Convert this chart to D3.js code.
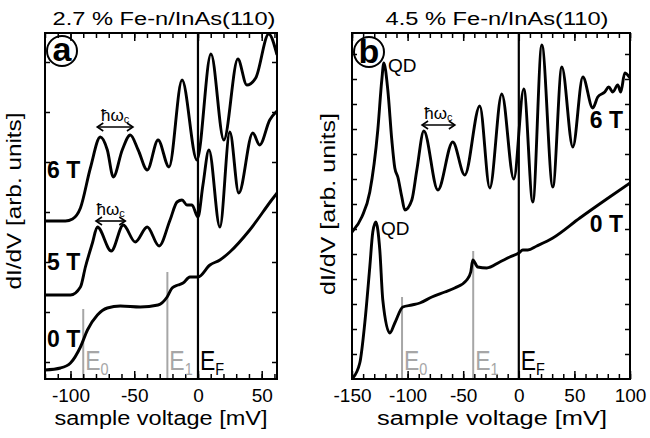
<!DOCTYPE html>
<html>
<head>
<meta charset="utf-8">
<script src="https://cdnjs.cloudflare.com/ajax/libs/d3/7.8.5/d3.min.js"></script>
<style>
    body { margin: 0; background: #fff; }
    svg text { font-family: "Liberation Sans", Arial, sans-serif; fill: #000; }
</style>
</head>
<body>
<div id="chart"></div>
<script>
// ---- panel a : 2.7 % Fe-n/InAs(110) ----
let voltA6 = [-120, -104, -98.4, -92.2, -84.4, -76.6, -71.1, -66.4, -59.4, -53.1, -46.9, -39.8, -31.3, -22.7, -12.5, -0.8, 10.2, 20.3, 31.3, 38.3, 45.3, 55.5, 62];
let didvA6 = [158, 158, 160, 171, 211, 242, 229, 202, 229, 244, 229, 209, 239, 212, 299, 219, 325, 239, 320, 294, 301, 345, 324];

let voltA5 = [-120, -100, -92.2, -88.3, -82.8, -78.9, -68, -58.6, -49.2, -39.8, -30.5, -21.9, -16.4, -12.5, -8.6, -4.7, 0, 3.9, 8.6, 17.2, 25, 32, 43, 48.4, 56.3, 62];
let didvA5 = [84, 84, 92, 112, 136, 152, 128, 154, 137, 152, 133, 159, 177, 179, 174, 174, 162, 194, 229, 152, 247, 186, 246, 234, 259, 268];

let voltA0 = [-120, -107.8, -100, -92.2, -86.7, -78.9, -71.1, -60.9, -45.3, -31.3, -24.2, -20.3, -15.6, -11.7, -6.3, 0, 9.4, 17.2, 25, 40.6, 57.8, 62];
let didvA0 = [9, 11, 16, 32, 49, 64, 71, 73, 72, 74, 82, 91, 94, 96, 102, 102, 114, 119, 127, 149, 179, 186];

// ---- panel b : 4.5 % Fe-n/InAs(110) ----
let voltB6 = [-150, -141.2, -134, -126.8, -123.2, -121.4, -117.8, -114.2, -111.5, -108.8, -105.2, -102.5, -96.2, -91.7, -85.4, -72.8, -59.4, -48.6, -35.1, -26.1, -15.3, -4.5, 4.5, 12.6, 20.7, 30.6, 38.7, 48.6, 57.6, 66.5, 71, 77.3, 80.9, 84.5, 89, 91.7, 95.3, 100];
let didvB6 = [147, 162, 187, 249, 299, 316, 289, 239, 211, 202, 182, 169, 179, 209, 248, 189, 237, 204, 273, 191, 285, 200, 290, 177, 334, 192, 312, 232, 302, 271, 282, 287, 292, 287, 294, 287, 306, 301];

let voltB0 = [-150, -143, -138.5, -134, -131.3, -128.6, -125, -122.3, -116, -111.5, -104.3, -96.2, -89, -78.2, -66.5, -57.6, -46.8, -43.2, -41.4, -36.9, -28.8, -17.1, -8.1, 0, 3.6, 8.1, 16.2, 30.6, 54.9, 79.1, 100];
let didvB0 = [0, 16, 56, 112, 147, 157, 129, 79, 46, 56, 72, 74, 76, 82, 87, 91, 99, 107, 119, 112, 111, 117, 122, 126, 129, 129, 133, 141, 161, 180, 196];

// level energies E0, E1 (mV)
let levelsA = [-90, -24];
let levelsB = [-105, -41];

let majorA = [-100, -50, 0, 50];
let majorB = [-150, -100, -50, 0, 50, 100];
let yTicksA = [17, 67, 117, 167, 217, 267, 317];
let yTicksB = d3.range(25, 346, 25);

let width = 650, height = 438;
let plotTop = 33, plotBottom = 379;
let gray = '#a6a6a6';

let svg = d3.select('#chart').append('svg')
    .attr('width', width)
    .attr('height', height);

let yScale = d3.scaleLinear()
    .domain([0, 346])
    .range([plotBottom, plotTop]);

function fmt(d) {
    return d < 0 ? '-' + (-d) : '' + d;
}

function drawPanel(p) {
    let xScale = d3.scaleLinear()
        .domain(p.domain)
        .range([p.left, p.right]);

    let g = svg.append('g');

    let clipId = 'clip' + p.name;
    svg.append('clipPath').attr('id', clipId)
        .append('rect')
        .attr('x', p.left).attr('y', plotTop)
        .attr('width', p.right - p.left).attr('height', plotBottom - plotTop);

    // gray level lines
    p.levels.forEach(function (v, i) {
        g.append('line')
            .attr('x1', xScale(v)).attr('x2', xScale(v))
            .attr('y1', yScale(p.levelTop[i])).attr('y2', plotBottom)
            .style('stroke', gray).style('stroke-width', 2);
    });

    // Fermi level
    g.append('line')
        .attr('x1', xScale(0)).attr('x2', xScale(0))
        .attr('y1', plotTop).attr('y2', plotBottom)
        .style('stroke', '#000').style('stroke-width', 2.2);

    // curves
    let line = d3.line()
        .x(function (d) { return xScale(d[0]); })
        .y(function (d) { return yScale(d[1]); })
        .curve(d3.curveMonotoneX);

    p.curves.forEach(function (c) {
        g.append('path')
            .datum(d3.zip(c[0], c[1]))
            .attr('clip-path', 'url(#' + clipId + ')')
            .attr('d', line)
            .style('fill', 'none')
            .style('stroke', '#000')
            .style('stroke-width', 2.9)
            .style('stroke-linejoin', 'round');
    });

    // axes (ticks inward)
    let minor = d3.range(p.domain[0] - (p.domain[0] % 10), p.domain[1] + 0.1, 10);

    let bMinor = g.append('g').attr('transform', 'translate(0,' + plotBottom + ')')
        .call(d3.axisBottom(xScale).tickValues(minor).tickSize(-5).tickFormat(''));
    let bMajor = g.append('g').attr('transform', 'translate(0,' + plotBottom + ')')
        .call(d3.axisBottom(xScale).tickValues(p.major).tickSize(-8).tickFormat(fmt));
    let tMinor = g.append('g').attr('transform', 'translate(0,' + plotTop + ')')
        .call(d3.axisTop(xScale).tickValues(minor).tickSize(-5).tickFormat(''));
    let tMajor = g.append('g').attr('transform', 'translate(0,' + plotTop + ')')
        .call(d3.axisTop(xScale).tickValues(p.major).tickSize(-8).tickFormat(''));
    let lAxis = g.append('g').attr('transform', 'translate(' + p.left + ',0)')
        .call(d3.axisLeft(yScale).tickValues(p.yTicks).tickSize(-5).tickFormat(''));
    let rAxis = g.append('g').attr('transform', 'translate(' + p.right + ',0)')
        .call(d3.axisRight(yScale).tickValues(p.yTicks).tickSize(-5).tickFormat(''));

    [bMinor, bMajor, tMinor, tMajor, lAxis, rAxis].forEach(function (a) {
        a.select('.domain').remove();
        a.selectAll('line').style('stroke', '#000').style('stroke-width', 1.5);
    });

    bMajor.selectAll('text')
        .attr('y', 23).attr('dy', null)
        .style('font-size', '19px');

    // frame
    g.append('rect')
        .attr('x', p.left).attr('y', plotTop)
        .attr('width', p.right - p.left).attr('height', plotBottom - plotTop)
        .style('fill', 'none').style('stroke', '#000').style('stroke-width', 2);

    // title + axis labels
    svg.append('text')
        .attr('x', p.titleX).attr('y', 25)
        .attr('text-anchor', 'middle')
        .attr('textLength', 223).attr('lengthAdjust', 'spacingAndGlyphs')
        .style('font-size', '17.5px')
        .text(p.title);

    svg.append('text')
        .attr('x', p.xLabelX).attr('y', 425)
        .attr('text-anchor', 'middle')
        .attr('textLength', p.xLabelW).attr('lengthAdjust', 'spacingAndGlyphs')
        .style('font-size', '20px')
        .text('sample voltage [mV]');

    svg.append('text')
        .attr('transform', 'translate(' + p.yLabelX + ',' + p.yLabelY + ') rotate(-90)')
        .attr('text-anchor', 'middle')
        .attr('textLength', p.yLabelW).attr('lengthAdjust', 'spacingAndGlyphs')
        .style('font-size', '20px')
        .text('dI/dV [arb. units]');

    // E labels
    let eLabels = [[p.levels[0], '0', gray], [p.levels[1], '1', gray], [0, 'F', '#000']];
    eLabels.forEach(function (e) {
        let t = svg.append('text')
            .attr('transform', 'translate(' + (xScale(e[0]) + 2) + ',370) scale(0.85,1)')
            .style('font-size', '27px')
            .style('fill', e[2]);
        t.append('tspan').text('E').style('fill', e[2]);
        t.append('tspan').attr('dy', 5).style('font-size', '17px').style('fill', e[2]).text(e[1]);
    });

    // circled panel letter
    svg.append('circle')
        .attr('cx', p.circle[0]).attr('cy', p.circle[1]).attr('r', 15)
        .style('fill', 'none').style('stroke', '#000').style('stroke-width', 2);
    svg.append('text')
        .attr('x', p.circle[0]).attr('y', p.circle[1] + p.letterDy)
        .attr('text-anchor', 'middle')
        .style('font-size', '34px').style('font-weight', 'bold')
        .text(p.name);

    return xScale;
}

function fieldLabel(x, y, s, anchor) {
    svg.append('text')
        .attr('x', x).attr('y', y)
        .attr('text-anchor', anchor)
        .style('font-size', '23px').style('font-weight', 'bold')
        .text(s);
}

function hbarArrow(xScale, v1, v2, val) {
    let x1 = xScale(v1), x2 = xScale(v2), yy = yScale(val);
    let g = svg.append('g').style('stroke', '#000').style('stroke-width', 1.6).style('fill', 'none');
    g.append('line').attr('x1', x1).attr('x2', x2).attr('y1', yy).attr('y2', yy);
    g.append('polyline').attr('points', (x1 + 6) + ',' + (yy - 4) + ' ' + x1 + ',' + yy + ' ' + (x1 + 6) + ',' + (yy + 4));
    g.append('polyline').attr('points', (x2 - 6) + ',' + (yy - 4) + ' ' + x2 + ',' + yy + ' ' + (x2 - 6) + ',' + (yy + 4));
    let t = svg.append('text')
        .attr('x', (x1 + x2) / 2).attr('y', yy - 6)
        .attr('text-anchor', 'middle')
        .style('font-size', '17px');
    t.append('tspan').text('\u0127\u03c9');
    t.append('tspan').attr('dy', 2).style('font-size', '11px').text('c');
}

let xA = drawPanel({
    name: 'a', domain: [-120, 62], left: 45, right: 277,
    levels: levelsA, levelTop: [70, 107], major: majorA, yTicks: yTicksA,
    curves: [[voltA6, didvA6], [voltA5, didvA5], [voltA0, didvA0]],
    title: '2.7 % Fe-n/InAs(110)', titleX: 164,
    xLabelX: 161, xLabelW: 213,
    yLabelX: 21, yLabelY: 201, yLabelW: 177,
    circle: [62, 51], letterDy: 10
});

let xB = drawPanel({
    name: 'b', domain: [-150, 100], left: 352, right: 630,
    levels: levelsB, levelTop: [82, 128], major: majorB, yTicks: yTicksB,
    curves: [[voltB6, didvB6], [voltB0, didvB0]],
    title: '4.5 % Fe-n/InAs(110)', titleX: 497,
    xLabelX: 492, xLabelW: 230,
    yLabelX: 335, yLabelY: 204, yLabelW: 182,
    circle: [369, 52], letterDy: 11
});

// field labels
fieldLabel(47, 178, '6 T', 'start');
fieldLabel(47, 270, '5 T', 'start');
fieldLabel(47, 347, '0 T', 'start');
fieldLabel(623, 128, '6 T', 'end');
fieldLabel(623, 232, '0 T', 'end');

// quantum dot peaks
svg.append('text').attr('x', 388).attr('y', 72).style('font-size', '19px').text('QD');
svg.append('text').attr('x', 381).attr('y', 235).style('font-size', '19px').text('QD');

// cyclotron spacing arrows
hbarArrow(xA, -79, -51, 252);
hbarArrow(xA, -80, -57, 158);
hbarArrow(xB, -87, -57.5, 254);
</script>
</body>
</html>
